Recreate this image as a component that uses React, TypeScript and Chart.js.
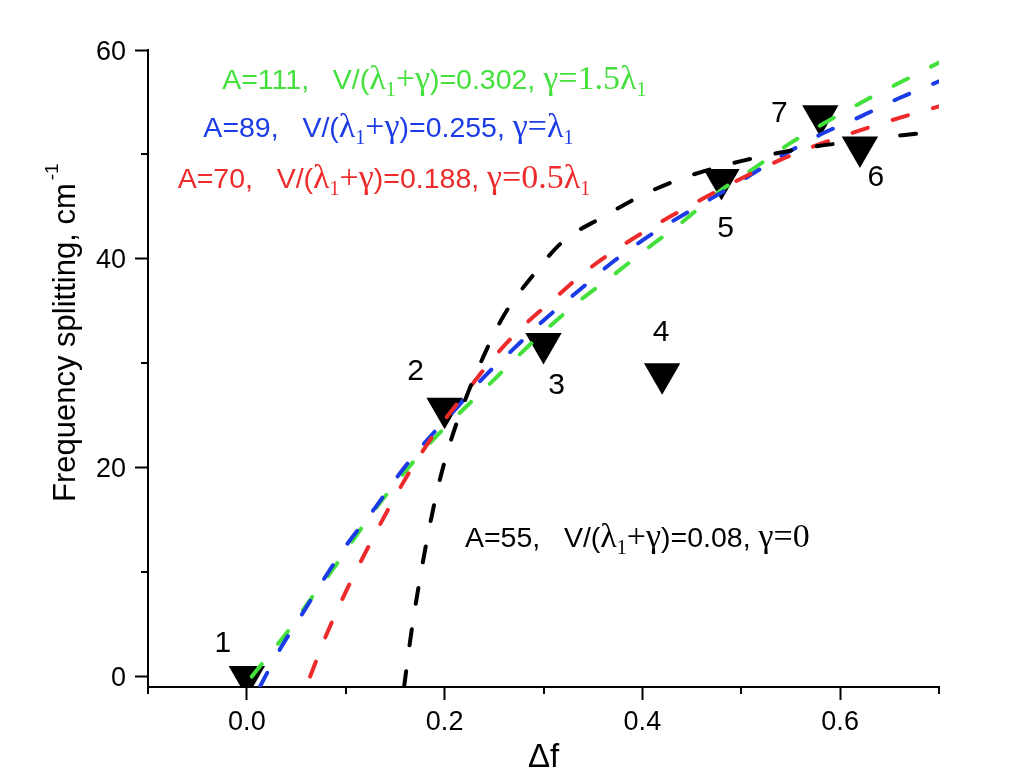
import { useEffect, useRef } from "react"
import { Chart, registerables } from "chart.js"

// Register Chart.js components
Chart.register(...registerables)

const SANS = '"Liberation Sans", Arial, sans-serif'
const SERIF = '"Liberation Serif", "Times New Roman", serif'

const GREEN = "#44e03c"
const BLUE = "#1a3be6"
const RED = "#ee2a2a"
const BLACK = "#000000"

// --- measured points (down triangles) ---
const pointDf = [0.0, 0.2, 0.3, 0.42, 0.48, 0.62, 0.58]
const pointSplit = [0, 25.7, 31.9, 29.0, 47.6, 50.7, 53.7]
const pointLabels = ["1", "2", "3", "4", "5", "6", "7"]

// --- model curves ---
const greenDf = [0.005, 0.02, 0.042, 0.066, 0.091, 0.118, 0.146, 0.177, 0.205, 0.24, 0.27, 0.3, 0.334, 0.37, 0.405, 0.44, 0.477, 0.515, 0.55, 0.586, 0.628, 0.667, 0.7]
const greenSplit = [0, 1.8, 4.4, 7.6, 10.8, 14.5, 18.0, 21.5, 24.3, 27.5, 30.3, 33.0, 35.8, 38.4, 41.0, 43.5, 46.4, 48.8, 51.1, 53.1, 55.3, 57.2, 58.8]

const blueDf = [0.013, 0.034, 0.056, 0.077, 0.1, 0.13, 0.155, 0.18, 0.21, 0.24, 0.27, 0.3, 0.34, 0.37, 0.41, 0.45, 0.49, 0.54, 0.58, 0.62, 0.66, 0.7]
const blueSplit = [-1, 2.7, 6.0, 9.2, 12.5, 16.2, 19.5, 22.4, 25.5, 28.7, 31.4, 34.1, 37.3, 39.7, 42.4, 44.7, 46.9, 49.8, 51.9, 53.6, 55.4, 57.0]

const redDf = [0.064, 0.08, 0.1, 0.12, 0.14, 0.162, 0.19, 0.22, 0.25, 0.28, 0.31, 0.34, 0.38, 0.42, 0.46, 0.5, 0.54, 0.58, 0.62, 0.66, 0.7]
const redSplit = [0, 3.9, 8.1, 11.9, 15.5, 19.2, 23.3, 27.0, 30.6, 33.6, 36.1, 38.6, 41.3, 43.6, 45.7, 47.7, 49.5, 51.0, 52.3, 53.5, 54.6]

const blackDf = [0.159, 0.166, 0.174, 0.183, 0.193, 0.205, 0.22, 0.24, 0.26, 0.29, 0.32, 0.36, 0.4, 0.44, 0.485, 0.53, 0.57, 0.62, 0.66, 0.7]
const blackSplit = [-1, 4.0, 8.8, 13.5, 18.0, 22.2, 26.3, 30.8, 34.6, 38.5, 41.7, 44.0, 46.1, 47.7, 49.0, 50.0, 50.7, 51.3, 51.8, 52.2]

// --- axes ---
const xTicks = [-0.1, 0, 0.1, 0.2, 0.3, 0.4, 0.5, 0.6, 0.7]
const xMajor = [0, 0.2, 0.4, 0.6]
const yTicks = [0, 10, 20, 30, 40, 50, 60]
const yMajor = [0, 20, 40, 60]
const xTitle = "Δf"
const yTitle = "Frequency splitting, cm"
const yTitleSup = "-1"

// --- annotation texts: [text, serif?, subscript?] ---
type Seg = [string, boolean, boolean]
const greenText: Seg[] = [["A=111,   V/(", false, false], ["λ", true, false], ["1", true, true], ["+γ", true, false], [")=0.302, ", false, false], ["γ=1.5λ", true, false], ["1", true, true]]
const blueText: Seg[] = [["A=89,   V/(", false, false], ["λ", true, false], ["1", true, true], ["+γ", true, false], [")=0.255, ", false, false], ["γ=λ", true, false], ["1", true, true]]
const redText: Seg[] = [["A=70,   V/(", false, false], ["λ", true, false], ["1", true, true], ["+γ", true, false], [")=0.188, ", false, false], ["γ=0.5λ", true, false], ["1", true, true]]
const blackText: Seg[] = [["A=55,   V/(", false, false], ["λ", true, false], ["1", true, true], ["+γ", true, false], [")=0.08, ", false, false], ["γ=0", true, false]]

// where each annotation starts, in data coordinates (left, baseline)
const annotations = [
    { segs: greenText, color: GREEN, x: -0.025, y: 56.3 },
    { segs: blueText, color: BLUE, x: -0.044, y: 51.7 },
    { segs: redText, color: RED, x: -0.07, y: 46.8 },
    { segs: blackText, color: BLACK, x: 0.2205, y: 12.4 },
]

// label offsets (px) from each triangle
const labelOffsets = [[-24, -33], [-29, -36], [13, 42], [-1, -41], [4, 49], [16, 31], [-41, -2]]

const near = (list: number[], v: number) => list.some((m) => Math.abs(m - v) < 1e-9)
const pairs = (xs: number[], ys: number[]) => xs.map((x, i) => ({ x, y: ys[i] }))

const curve = (label: string, xs: number[], ys: number[], color: string) => ({
    label,
    data: pairs(xs, ys),
    showLine: true,
    borderColor: color,
    backgroundColor: color,
    borderWidth: 4,
    borderDash: [16, 26],
    borderCapStyle: "round" as const,
    cubicInterpolationMode: "monotone" as const,
    pointRadius: 0,
    order: 1,
})

const decorations = {
    id: "decorations",
    afterDraw(chart: any) {
        const { ctx, chartArea, scales } = chart
        const xs = scales.x
        const ys = scales.y
        ctx.save()

        // minor ticks
        ctx.strokeStyle = "#000"
        ctx.lineWidth = 2
        ctx.beginPath()
        xTicks.filter((v) => !near(xMajor, v)).forEach((v) => {
            const px = Math.round(xs.getPixelForValue(v))
            ctx.moveTo(px, chartArea.bottom)
            ctx.lineTo(px, chartArea.bottom + 7)
        })
        yTicks.filter((v) => !near(yMajor, v)).forEach((v) => {
            const py = Math.round(ys.getPixelForValue(v))
            ctx.moveTo(chartArea.left, py)
            ctx.lineTo(chartArea.left - 7, py)
        })
        ctx.stroke()

        // tick labels
        ctx.fillStyle = "#000"
        ctx.font = `27px ${SANS}`
        ctx.textBaseline = "alphabetic"
        ctx.textAlign = "center"
        xMajor.forEach((v) => {
            ctx.fillText(v.toFixed(1), xs.getPixelForValue(v), chartArea.bottom + 43)
        })
        ctx.textAlign = "right"
        yMajor.forEach((v) => {
            ctx.fillText(String(v), chartArea.left - 22, ys.getPixelForValue(v) + 9.5)
        })

        // x title
        ctx.textAlign = "center"
        ctx.font = `33px ${SANS}`
        ctx.fillText(xTitle, (chartArea.left + chartArea.right) / 2, chartArea.bottom + 80)

        // point numbers
        ctx.font = `30px ${SANS}`
        ctx.textBaseline = "middle"
        pointLabels.forEach((t, i) => {
            const px = xs.getPixelForValue(pointDf[i])
            const py = ys.getPixelForValue(pointSplit[i])
            ctx.fillText(t, px + labelOffsets[i][0], py + labelOffsets[i][1])
        })

        // annotations
        ctx.textAlign = "left"
        ctx.textBaseline = "alphabetic"
        annotations.forEach((a) => {
            let px = xs.getPixelForValue(a.x)
            const py = ys.getPixelForValue(a.y)
            ctx.fillStyle = a.color
            a.segs.forEach(([text, serif, sub]) => {
                ctx.font = sub ? `20px ${SERIF}` : serif ? `34px ${SERIF}` : `28.5px ${SANS}`
                ctx.fillText(text, px, py + (sub ? 7 : 0))
                px += ctx.measureText(text).width
            })
        })

        // y-axis title with superscript
        ctx.fillStyle = "#000"
        ctx.translate(chartArea.left - 73, chartArea.top + 452)
        ctx.rotate(-Math.PI / 2)
        ctx.font = `31px ${SANS}`
        ctx.fillText(yTitle, 0, 0)
        const w = ctx.measureText(yTitle).width
        ctx.font = `19px ${SANS}`
        ctx.fillText(yTitleSup, w + 3, -17)
        ctx.restore()
    },
}

export default function App() {
    const canvasRef = useRef<HTMLCanvasElement | null>(null)
    const chartRef = useRef<Chart | null>(null)

    useEffect(() => {
        if (!canvasRef.current) return
        const ctx = canvasRef.current.getContext("2d")
        if (!ctx) return
        if (chartRef.current) chartRef.current.destroy()

        chartRef.current = new Chart(ctx, {
            type: "scatter",
            data: {
                datasets: [
                    curve("black", blackDf, blackSplit, BLACK),
                    curve("red", redDf, redSplit, RED),
                    curve("blue", blueDf, blueSplit, BLUE),
                    curve("green", greenDf, greenSplit, GREEN),
                    {
                        label: "points",
                        data: pairs(pointDf, pointSplit),
                        pointStyle: "triangle",
                        rotation: 180,
                        pointRadius: 21,
                        pointBorderWidth: 0,
                        backgroundColor: "#000",
                        borderColor: "#000",
                        order: 2,
                    } as any,
                ],
            },
            options: {
                animation: false,
                responsive: true,
                maintainAspectRatio: false,
                layout: { padding: { left: 0, right: 85, top: 50, bottom: 0 } },
                plugins: { legend: { display: false }, tooltip: { enabled: false } },
                scales: {
                    x: {
                        type: "linear",
                        min: -0.1,
                        max: 0.7,
                        afterBuildTicks: (scale: any) => {
                            scale.ticks = xTicks.map((v) => ({ value: v }))
                        },
                        afterFit: (scale: any) => {
                            scale.height = 94
                        },
                        ticks: { display: false },
                        grid: {
                            drawOnChartArea: false,
                            drawTicks: true,
                            tickLength: 13,
                            tickWidth: 2,
                            tickColor: (c: any) => (c.tick && near(xMajor, c.tick.value) ? "#000" : "rgba(0,0,0,0)"),
                        },
                        border: { display: true, color: "#000", width: 2 },
                    },
                    y: {
                        type: "linear",
                        min: -1,
                        max: 60,
                        afterBuildTicks: (scale: any) => {
                            scale.ticks = yTicks.map((v) => ({ value: v }))
                        },
                        afterFit: (scale: any) => {
                            scale.width = 148
                        },
                        ticks: { display: false },
                        grid: {
                            drawOnChartArea: false,
                            drawTicks: true,
                            tickLength: 13,
                            tickWidth: 2,
                            tickColor: (c: any) => (c.tick && near(yMajor, c.tick.value) ? "#000" : "rgba(0,0,0,0)"),
                        },
                        border: { display: true, color: "#000", width: 2 },
                    },
                },
            },
            plugins: [decorations],
        })

        return () => {
            if (chartRef.current) {
                chartRef.current.destroy()
                chartRef.current = null
            }
        }
    }, [])

    return (
        <div style={{ position: "absolute", left: 0, top: 0, width: 1024, height: 781, background: "#fff" }}>
            <canvas ref={canvasRef} />
        </div>
    )
}
